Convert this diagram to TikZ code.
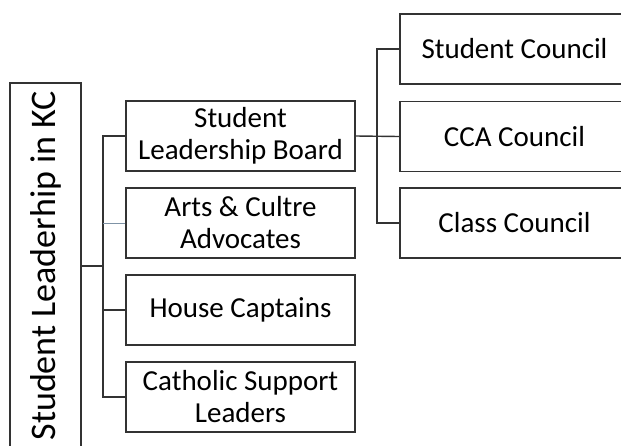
\documentclass[tikz,border=0pt]{standalone}
\usepackage{fontspec}
\setmainfont{Carlito}
\definecolor{linegray}{HTML}{333333}
\definecolor{thinblue}{HTML}{7F93A6}
\begin{document}
\begin{tikzpicture}[x=1pt,y=-1pt,
  box/.style={draw=linegray, line width=1.4pt, fill=white, inner sep=0pt,
    minimum width=229pt, minimum height=70pt, align=center,
    font=\fontsize{29}{32}\selectfont, text=black},
  conn/.style={draw=linegray, line width=1.4pt}]
\useasboundingbox (0,0) rectangle (621,445);
\node[box, minimum width=71pt, minimum height=366pt] (root) at (45.5,266)
  {\rotatebox{90}{\fontsize{36}{39}\selectfont Student Leaderhip in KC}};
\node[box] (slb) at (240.5,136) {Student\\Leadership Board};
\node[box] (arts) at (240.5,223) {Arts \& Cultre\\Advocates};
\node[box] (house) at (240.5,310) {House Captains};
\node[box] (csl) at (240.5,397) {Catholic Support\\Leaders};
\node[box] (sc) at (514.5,49) {Student Council};
\node[box] (cca) at (514.5,136.5) {CCA Council};
\node[box] (cl) at (514.5,223) {Class Council};
\coordinate (bus) at (103,0);
\coordinate (bus2) at (377,0);
\draw[conn] (root.east) -- (root.east -| bus);
\draw[conn] (slb.west) -- (slb.west -| bus) -- (csl.west -| bus) -- (csl.west);
\draw[draw=thinblue, line width=0.8pt] (arts.west) -- (arts.west -| bus);
\draw[conn] (house.west) -- (house.west -| bus);
\draw[conn] (slb.east) -- (cca.west);
\draw[conn] (sc.west) -- (sc.west -| bus2) -- (cl.west -| bus2) -- (cl.west);
\end{tikzpicture}
\end{document}
